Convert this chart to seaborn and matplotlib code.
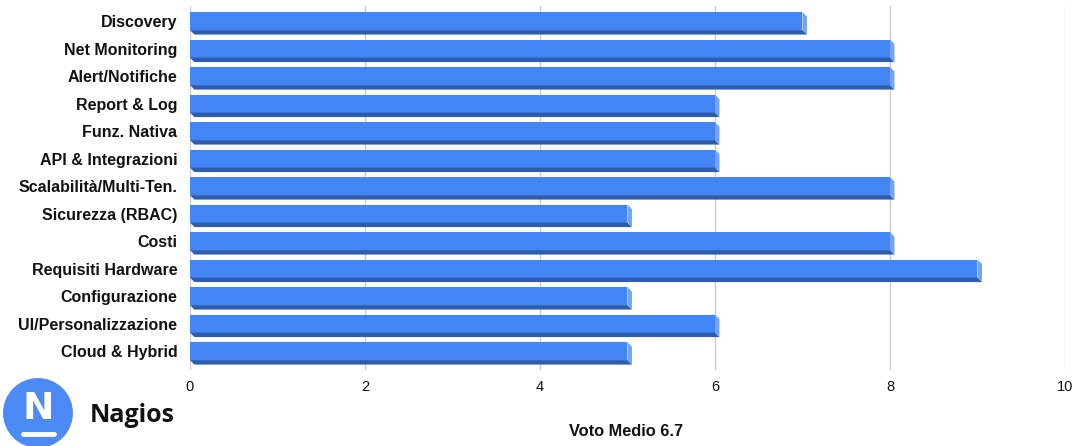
import matplotlib
matplotlib.use("Agg")
import matplotlib.pyplot as plt
from matplotlib.patches import Polygon, Circle
import seaborn as sns
import pandas as pd

categories = [
    "Discovery", "Net Monitoring", "Alert/Notifiche", "Report & Log",
    "Funz. Nativa", "API & Integrazioni", "Scalabilità/Multi-Ten.",
    "Sicurezza (RBAC)", "Costi", "Requisiti Hardware", "Configurazione",
    "UI/Personalizzazione", "Cloud & Hybrid",
]
scores = [7, 8, 8, 6, 6, 6, 8, 5, 8, 9, 5, 6, 5]
x_ticks = [0, 2, 4, 6, 8, 10]
tool_name = "Nagios"
mean_label = f"Voto Medio {sum(scores) / len(scores):.1f}"

df = pd.DataFrame({"categoria": categories, "voto": scores})

sns.set_theme(style="white")
plt.rcParams["font.family"] = ["Liberation Sans", "DejaVu Sans"]

FRONT = "#4285F4"
BOTTOM = "#2F5DAE"
SIDE = "#74A3F6"

fig = plt.figure(figsize=(10.79, 4.46), dpi=100)
ax = fig.add_axes([0.176, 0.1697, 0.811, 0.817])

sns.barplot(data=df, x="voto", y="categoria", orient="h", color=FRONT,
            width=0.655, saturation=1, ax=ax, zorder=3)

ax.set_xlim(0, 10)
ax.set_ylim(12.7, -0.55)

# extrusion depth: ~4.5 px in each direction, expressed in data units
dx = 4.5 / 87.5
dy = 4.5 / 27.5
for p in ax.patches[:len(scores)]:
    p.set_edgecolor("none")
    x0, x1 = p.get_x(), p.get_x() + p.get_width()
    y0, y1 = p.get_y(), p.get_y() + p.get_height()
    ax.add_patch(Polygon([(x0, y1), (x1, y1), (x1 + dx, y1 + dy), (x0 + dx, y1 + dy)],
                         closed=True, facecolor=BOTTOM, edgecolor="none", zorder=3))
    ax.add_patch(Polygon([(x1, y0), (x1 + dx, y0 + dy), (x1 + dx, y1 + dy), (x1, y1)],
                         closed=True, facecolor=SIDE, edgecolor="none", zorder=3))

ax.set_xticks(x_ticks)
ax.set_xticklabels([str(t) for t in x_ticks], fontsize=10.5, color="#111111")
ax.grid(axis="x", color="#CCCCCC", linewidth=1, zorder=0)
ax.grid(axis="y", visible=False)
for s in ax.spines.values():
    s.set_visible(False)
ax.tick_params(axis="x", length=0, pad=7)
ax.tick_params(axis="y", length=0, pad=9)
for lbl in ax.get_yticklabels():
    lbl.set_fontweight("bold")
    lbl.set_fontsize(11.5)
    lbl.set_color("#111111")
ax.set_ylabel("")
ax.set_xlabel(mean_label, fontsize=11.8, fontweight="bold", color="#111111")
ax.xaxis.set_label_coords(0.498, -0.169)
ax.xaxis.label.set_va("center")

# logo badge
logo_ax = fig.add_axes([0.0, 0.0, 0.0727, 0.176])
logo_ax.set_xlim(0, 78.5)
logo_ax.set_ylim(0, 78.5)
logo_ax.set_aspect("equal")
logo_ax.axis("off")
logo_ax.add_patch(Circle((38, 33), 35, facecolor="#4C8BF5", edgecolor="none"))
logo_ax.text(38, 37, "N", ha="center", va="center", color="white",
             fontsize=27, fontweight="bold", family=["DejaVu Sans"])
logo_ax.plot([23, 54], [12, 12], color="white", linewidth=3.5, solid_capstyle="round")

fig.text(90 / 1079, 1 - 415 / 446, tool_name, ha="left", va="center",
         fontsize=18, fontweight="bold", family=["Open Sans", "DejaVu Sans"], color="#111111")

fig.savefig("out.png", dpi=100)
